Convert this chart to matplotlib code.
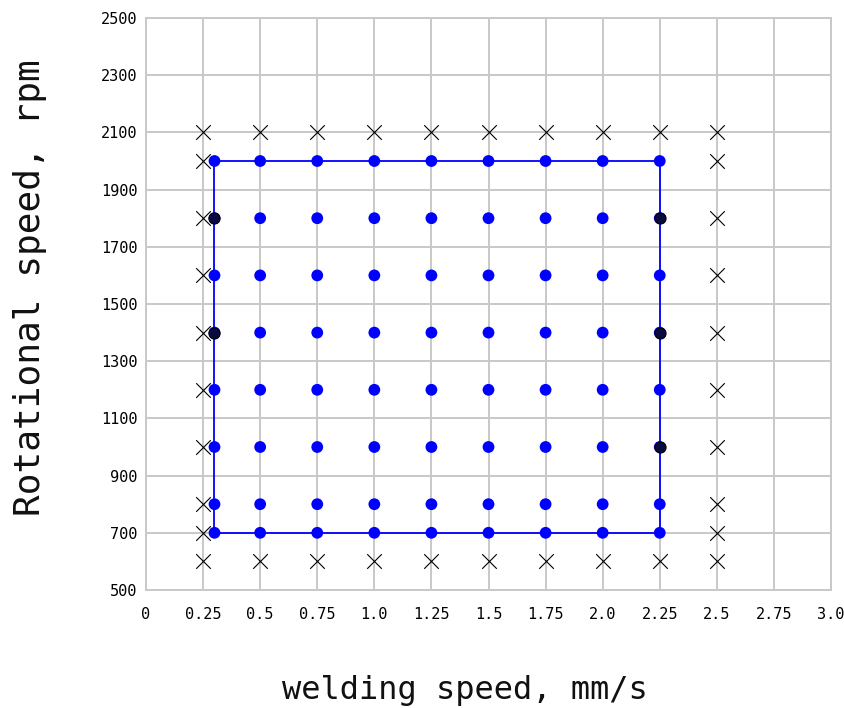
import matplotlib
matplotlib.use("Agg")
import matplotlib.pyplot as plt

# Experimental points (blue dots)
dot_x = [0.3, 0.5, 0.75, 1.0, 1.25, 1.5, 1.75, 2.0, 2.25]
dot_y = [700, 800, 1000, 1200, 1400, 1600, 1800, 2000]

# Dark (black) points
dark_x = [0.3, 0.3, 2.25, 2.25, 2.25]
dark_y = [1800, 1400, 1800, 1400, 1000]

# Boundary rectangle
rect_x = [0.3, 2.25, 2.25, 0.3, 0.3]
rect_y = [700, 700, 2000, 2000, 700]

# X markers: top and bottom rows
xrow_x = [0.25, 0.5, 0.75, 1.0, 1.25, 1.5, 1.75, 2.0, 2.25, 2.5]
xrow_y = [2100, 600]
# X markers: side columns
xcol_x = [0.25, 2.5]
xcol_y = [2000, 1800, 1600, 1400, 1200, 1000, 800, 700]

xticks = [0, 0.25, 0.5, 0.75, 1.0, 1.25, 1.5, 1.75, 2.0, 2.25, 2.5, 2.75, 3.0]
xticklabels = ["0", "0.25", "0.5", "0.75", "1.0", "1.25", "1.5", "1.75", "2.0", "2.25", "2.5", "2.75", "3.0"]
yticks = [500, 700, 900, 1100, 1300, 1500, 1700, 1900, 2100, 2300, 2500]

mono = "DejaVu Sans Mono"

fig = plt.figure(figsize=(8.45, 7.08), dpi=100)
ax = fig.add_axes([146/845, 1-590/708, (831-146)/845, (590-18)/708])

ax.set_xlim(0, 3.0)
ax.set_ylim(500, 2500)
ax.set_xticks(xticks)
ax.set_xticklabels(xticklabels, family=mono, fontsize=11)
ax.set_yticks(yticks)
ax.set_yticklabels([str(v) for v in yticks], family=mono, fontsize=11)
ax.tick_params(axis="x", length=0, pad=12)
ax.tick_params(axis="y", length=0, pad=6)
ax.grid(True, color="#c8c8c8", linewidth=1.4)
ax.set_axisbelow(True)
for s in ax.spines.values():
    s.set_color("#c8c8c8")
    s.set_linewidth(1.4)

ax.plot(rect_x, rect_y, color="#0000ff", linewidth=1.3, zorder=3)

gx = [x for y in dot_y for x in dot_x]
gy = [y for y in dot_y for x in dot_x]
ax.scatter(gx, gy, s=72, color="#0000ff", edgecolors="none", zorder=4)
ax.scatter(dark_x, dark_y, s=64, color="#0a0a40", edgecolors="black", linewidths=0.8, zorder=5)

mx = [x for y in xrow_y for x in xrow_x] + [x for y in xcol_y for x in xcol_x]
my = [y for y in xrow_y for x in xrow_x] + [y for y in xcol_y for x in xcol_x]
ax.scatter(mx, my, marker="x", s=110, color="black", linewidths=0.8, zorder=4)

ax.set_xlabel("welding speed, mm/s", family=mono, fontsize=23, va="center", ha="center", color="#111111")
ax.set_ylabel("Rotational speed, rpm", family=mono, fontsize=26, va="center", ha="center", color="#111111")
ax.xaxis.set_label_coords((465-146)/685, (590-690)/572)
ax.yaxis.set_label_coords((30-146)/685, (590-288)/572)

fig.savefig("out.png", dpi=100)
